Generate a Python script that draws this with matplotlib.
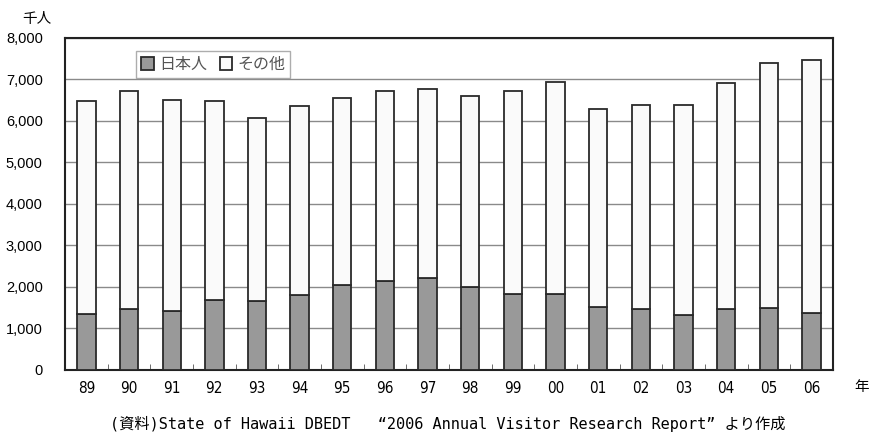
import matplotlib
matplotlib.use("Agg")
import matplotlib.pyplot as plt
import numpy as np

plt.rcParams['font.family'] = ['Noto Sans CJK JP', 'DejaVu Sans']

# data (thousand people)
years = ['89', '90', '91', '92', '93', '94', '95', '96', '97', '98',
         '99', '00', '01', '02', '03', '04', '05', '06']
japanese = [1356, 1477, 1428, 1695, 1663, 1816, 2041, 2138, 2211, 1992,
            1823, 1823, 1525, 1469, 1332, 1469, 1501, 1373]
total = [6480, 6720, 6510, 6470, 6065, 6360, 6545, 6720, 6760, 6590,
         6730, 6940, 6300, 6380, 6380, 6910, 7405, 7460]
others = [t - j for t, j in zip(total, japanese)]
yticks = [0, 1000, 2000, 3000, 4000, 5000, 6000, 7000, 8000]

fig = plt.figure(figsize=(8.73, 4.34), dpi=100)
ax = fig.add_axes([0.0745, 0.1475, 0.8795, 0.765])

x = np.arange(len(years))
b1 = ax.bar(x, japanese, width=0.43, color='#999999', edgecolor='#2a2a2a', linewidth=1.3, zorder=3, label='日本人')
b2 = ax.bar(x, others, width=0.43, bottom=japanese, color='#fafafa', edgecolor='#2a2a2a', linewidth=1.3, zorder=3, label='その他')

ax.set_xlim(-0.5, len(years) - 0.5)
ax.set_ylim(0, 8000)
ax.set_yticks(yticks)
ax.set_yticklabels(['{:,}'.format(v) for v in yticks], fontsize=10.5, family='Liberation Sans')
ax.yaxis.grid(True, color='#8a8a8a', linewidth=1.0, zorder=0)
ax.tick_params(axis='y', length=0, pad=16)

ax.set_xticks(x)
ax.set_xticklabels(years, fontsize=11, family='DejaVu Sans', fontstretch='condensed')
ax.tick_params(axis='x', length=0, pad=8)
# small ticks between categories
ax.set_xticks(np.arange(0.5, len(years) - 1, 1.0), minor=True)
ax.tick_params(axis='x', which='minor', direction='in', length=4, color='#555555')

for s in ax.spines.values():
    s.set_color('#222222')
    s.set_linewidth(1.5)

leg = ax.legend(handles=[b1, b2], loc='upper left', bbox_to_anchor=(0.093, 0.96),
                ncol=2, fontsize=11.5, frameon=True, fancybox=False, edgecolor='#999999',
                handlelength=0.8, handleheight=0.8, handletextpad=0.3, columnspacing=0.8,
                borderpad=0.3, borderaxespad=0)
for t in leg.get_texts():
    t.set_color('#555555')

fig.text(37 / 873, 1 - 19 / 434, '千人', fontsize=10.5, ha='center', va='center')
fig.text(862 / 873, 1 - 387 / 434, '年', fontsize=10.5, ha='center', va='center')
fig.text(448 / 873, 1 - 424 / 434,
         '(資料)State of Hawaii DBEDT   \u201c2006 Annual Visitor Research Report\u201d より作成',
         fontsize=11, ha='center', va='center', family=['DejaVu Sans Mono', 'Noto Sans CJK JP'])

fig.savefig('out.png', dpi=100)
